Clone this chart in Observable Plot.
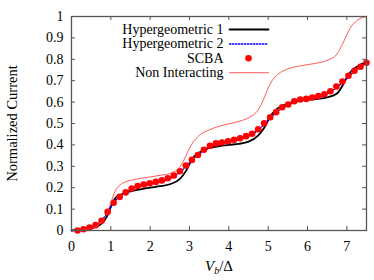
<!DOCTYPE html>
<html><head><meta charset="utf-8">
<script src="https://cdn.jsdelivr.net/npm/d3@7"></script>
<script src="https://cdn.jsdelivr.net/npm/@observablehq/plot@0.6"></script>
<style>body{margin:0;background:#fff}</style>
</head><body><div id="chart"></div>
<script>
// Bias grid for the line curves (V_b / Δ)
const lineX = [0,0.25,0.5,0.75,0.9,1.0,1.1,1.25,1.5,1.75,2.0,2.25,2.5,2.75,2.9,3.0,3.1,3.25,3.5,3.75,4.0,4.25,4.5,4.75,4.9,5.0,5.1,5.25,5.5,5.75,6.0,6.25,6.5,6.75,6.9,7.0,7.1,7.25,7.5];
const hyper1 = [0,0.003,0.01,0.03,0.065,0.11,0.148,0.167,0.183,0.192,0.2,0.207,0.216,0.24,0.275,0.31,0.342,0.365,0.385,0.394,0.4,0.405,0.415,0.445,0.48,0.515,0.545,0.572,0.593,0.605,0.611,0.615,0.622,0.64,0.68,0.715,0.742,0.764,0.788];
const hyper2 = [0,0.004,0.016,0.043,0.08,0.11,0.137,0.162,0.191,0.207,0.217,0.226,0.243,0.271,0.298,0.316,0.334,0.358,0.39,0.404,0.413,0.424,0.441,0.47,0.496,0.516,0.535,0.558,0.586,0.603,0.611,0.621,0.639,0.67,0.693,0.712,0.728,0.752,0.783];
const nonInteracting = [0,0.003,0.01,0.035,0.08,0.13,0.18,0.215,0.234,0.243,0.25,0.258,0.267,0.296,0.345,0.385,0.415,0.445,0.47,0.487,0.498,0.51,0.527,0.565,0.62,0.665,0.7,0.73,0.755,0.767,0.775,0.783,0.795,0.825,0.875,0.915,0.95,0.98,1.0];
// SCBA points
const scbaX = [0.153,0.306,0.459,0.612,0.765,0.918,1.071,1.224,1.378,1.531,1.684,1.837,1.99,2.143,2.296,2.449,2.602,2.755,2.908,3.061,3.214,3.367,3.52,3.673,3.827,3.98,4.133,4.286,4.439,4.592,4.745,4.898,5.051,5.204,5.357,5.51,5.663,5.816,5.969,6.122,6.276,6.429,6.582,6.735,6.888,7.041,7.194,7.347,7.5];
const scbaY = [0.0,0.006,0.014,0.025,0.045,0.087,0.13,0.157,0.178,0.196,0.208,0.215,0.221,0.227,0.234,0.244,0.257,0.277,0.304,0.33,0.353,0.377,0.396,0.407,0.411,0.417,0.424,0.431,0.441,0.452,0.473,0.501,0.529,0.553,0.576,0.589,0.604,0.612,0.615,0.621,0.628,0.637,0.651,0.673,0.696,0.723,0.746,0.765,0.784];

const xTicks = [0,1,2,3,4,5,6,7];
const xTickLabels = ["0","1","2","3","4","5","6","7"];
const yTicks = [0,0.1,0.2,0.3,0.4,0.5,0.6,0.7,0.8,0.9,1];
const yTickLabels = ["0","0.1","0.2","0.3","0.4","0.5","0.6","0.7","0.8","0.9","1"];
const legendNames = ["Hypergeometric 1","Hypergeometric 2","SCBA","Non Interacting"];

const font = "Liberation Serif";
const axisColor = "#555";
const lineShape = {draw(ctx, l) { ctx.moveTo(0, 0); ctx.lineTo(0, -l); }};

const lines = (ys) => lineX.map((x, i) => ({x, y: ys[i]}));
const scba = scbaX.map((x, i) => ({x, y: scbaY[i]}));

const legendMarks = [];
const styles = [
  {stroke: "black", strokeWidth: 1.8},
  {stroke: "#0000ff", strokeWidth: 1.5, strokeDasharray: "1.3,1.7"},
  null,
  {stroke: "#ff3030", strokeWidth: 0.8}
];
legendNames.forEach((name, i) => {
  const dy = 13 + i * 14.4;
  legendMarks.push(Plot.text([name], {text: d => d, frameAnchor: "top-left", dx: 152, dy, textAnchor: "end", lineAnchor: "middle", fontSize: 14, fontFamily: font, fill: "black"}));
  if (styles[i]) {
    legendMarks.push(Plot.vector([0], {frameAnchor: "top-left", dx: 158, dy, length: 39, rotate: 90, anchor: "start", shape: lineShape, ...styles[i]}));
  } else {
    legendMarks.push(Plot.dot([0], {frameAnchor: "top-left", dx: 177, dy, r: 3.3, fill: "red", stroke: "none"}));
  }
});

const chart = Plot.plot({
  width: 374, height: 280,
  marginLeft: 71, marginRight: 8, marginTop: 16, marginBottom: 50,
  x: {domain: [0, 7.5], axis: null},
  y: {domain: [0, 1], axis: null},
  style: {background: "white", color: "black"},
  marks: [
    Plot.tickX(xTicks, {x: d => d, insetTop: 210, stroke: axisColor}),
    Plot.tickX(xTicks, {x: d => d, insetBottom: 210, stroke: axisColor}),
    Plot.tickY(yTicks, {y: d => d, insetRight: 291, stroke: axisColor}),
    Plot.tickY(yTicks, {y: d => d, insetLeft: 291, stroke: axisColor}),
    Plot.text(xTicks, {x: d => d, text: (d, i) => xTickLabels[i], frameAnchor: "bottom", dy: 16, lineAnchor: "middle", fontSize: 14, fontFamily: font, fill: "black"}),
    Plot.text(yTicks, {y: d => d, text: (d, i) => yTickLabels[i], frameAnchor: "left", dx: -8, textAnchor: "end", lineAnchor: "middle", fontSize: 14, fontFamily: font, fill: "black"}),
    Plot.text(["Normalized Current"], {text: d => d, frameAnchor: "left", dx: -59, rotate: -90, textAnchor: "middle", lineAnchor: "middle", fontSize: 14.5, fontFamily: font, fill: "black"}),
    Plot.text(["Vb/Δ"], {text: d => d, frameAnchor: "bottom", dy: 36, textAnchor: "middle", lineAnchor: "middle", fontSize: 15, fontFamily: font, fill: "black"}),
    Plot.line(lines(hyper1), {x: "x", y: "y", curve: "monotone-x", stroke: "black", strokeWidth: 1.8}),
    Plot.line(lines(hyper2), {x: "x", y: "y", curve: "monotone-x", stroke: "#0000ff", strokeWidth: 1.5, strokeDasharray: "1.3,1.7"}),
    Plot.dot(scba, {x: "x", y: "y", r: 3.3, fill: "red", stroke: "none"}),
    Plot.line(lines(nonInteracting), {x: "x", y: "y", curve: "monotone-x", stroke: "#ff3030", strokeWidth: 0.8}),
    ...legendMarks,
    Plot.frame({stroke: axisColor, strokeWidth: 1.3})
  ]
});
document.getElementById("chart").appendChild(chart);

// subscript in the x label
d3.select(chart).selectAll("text").filter(function() { return this.textContent === "Vb/Δ"; })
  .each(function() {
    const t = d3.select(this);
    t.text(null);
    t.append("tspan").attr("font-style", "italic").text("V");
    t.append("tspan").attr("font-style", "italic").attr("font-size", 10).attr("dy", 3).text("b");
    t.append("tspan").attr("dy", -3).text("/Δ");
  });
</script>
</body></html>
